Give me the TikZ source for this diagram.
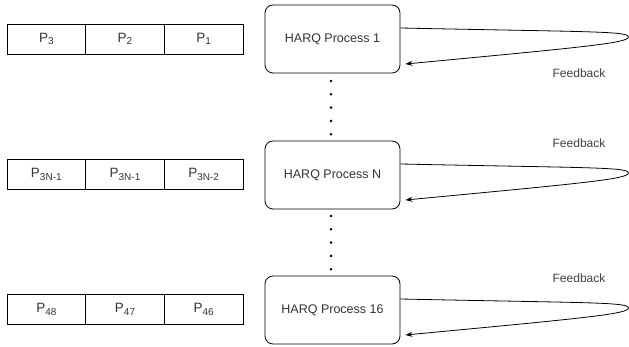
\documentclass[tikz,border=0pt]{standalone}
\usepackage{fontspec}
\setmainfont{Liberation Sans}
\usetikzlibrary{arrows.meta}
\usetikzlibrary{calc}
\newcommand{\pktsub}[1]{\raisebox{-0.35ex}{\fontsize{10}{12}\selectfont #1}}

\begin{document}
\begin{tikzpicture}[x=1pt, y=-1pt, line width=0.8pt,
  pkt node/.style={shape=rectangle, draw=black, minimum width=78.67pt, minimum height=30pt, inner sep=0, font=\fontsize{13.5}{15}\selectfont, text=black!80},
  harq node/.style={shape=rectangle, rounded corners=8pt, draw=black, minimum width=135pt, minimum height=68pt, inner sep=0, font=\fontsize{12.5}{14}\selectfont, text=black!80},
  fb label/.style={font=\fontsize{12}{14}\selectfont, text=black!75, inner sep=0},
  fb loop/.style={-{Stealth[length=7pt, width=5pt]}, line width=0.8pt}, ]
		\useasboundingbox (0,0) rectangle (629,347);
		%packet queues
		\foreach \r/\y/\a/\b/\c in {1/39/3/2/1, 2/174.5/{3N-1}/{3N-1}/{3N-2}, 3/309.5/48/47/46}
		{
		    \node[pkt node] (p\r a) at (46.33, \y){P\pktsub{\a}};
		    \node[pkt node] (p\r b) at (125, \y){P\pktsub{\b}};
		    \node[pkt node] (p\r c) at (203.67, \y){P\pktsub{\c}};
		}
		%harq processes
		\node[harq node] (h1) at (332.5,39){HARQ Process 1};
		\node[harq node] (h2) at (332.5,175){HARQ Process N};
		\node[harq node] (h3) at (332.5,310){HARQ Process 16};
		
		\node[fb label] (fb1) at (579,73){Feedback};
		\node[fb label] (fb2) at (579,143){Feedback};
		\node[fb label] (fb3) at (579,278){Feedback};
		
		%feedback loops
		\foreach \h in {h1,h2,h3}
		{
		    \coordinate (\h s) at ($(\h.east)+(0,-11)$);
		    \coordinate (\h t) at ($(\h.east)+(228,-2)$);
		    \coordinate (\h e) at ($(\h.east)+(5,25)$);
		    \draw[fb loop] (\h s) .. controls ($(\h s)+(190,4)$) and ($(\h t)+(0,-6)$) .. (\h t)
		        .. controls ($(\h t)+(0,6)$) and ($(\h e)+(180,-17)$) .. (\h e);
		}
		
		%dots
		\foreach \i in {0,...,4}
		{
		    \fill (331, 81 + \i * 13.3) circle (1.4);
		    \fill (331, 216 + \i * 13.3) circle (1.4);
		}
		\end{tikzpicture}
\end{document}
